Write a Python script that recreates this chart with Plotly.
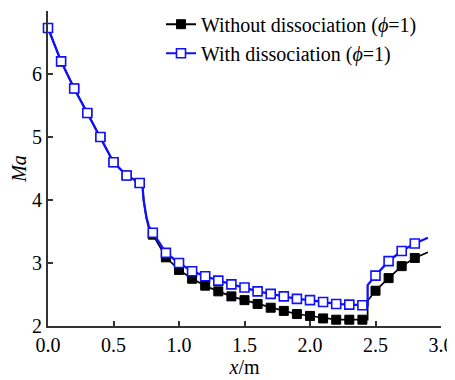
import plotly.graph_objects as go

# ---- data ----
x_marks = [0.0, 0.1, 0.2, 0.3, 0.4, 0.5, 0.6, 0.7, 0.8, 0.9, 1.0, 1.1, 1.2, 1.3, 1.4,
           1.5, 1.6, 1.7, 1.8, 1.9, 2.0, 2.1, 2.2, 2.3, 2.4, 2.5, 2.6, 2.7, 2.8]
ma_without = [6.73, 6.20, 5.77, 5.38, 5.00, 4.60, 4.39, 4.27, 3.45, 3.09, 2.89, 2.75, 2.64, 2.55, 2.47,
              2.41, 2.35, 2.29, 2.24, 2.19, 2.16, 2.12, 2.10, 2.10, 2.10, 2.56, 2.76, 2.95, 3.08]
ma_with = [6.73, 6.20, 5.77, 5.38, 5.00, 4.60, 4.39, 4.27, 3.48, 3.16, 3.00, 2.87, 2.79, 2.72, 2.66,
           2.61, 2.55, 2.51, 2.47, 2.43, 2.41, 2.38, 2.35, 2.34, 2.33, 2.80, 3.03, 3.19, 3.31]

# unmarked points of the continuous curves (shock drop, step rise, end of line)
drop_x = [0.72, 0.73, 0.75, 0.77]
drop_without = [4.25, 4.00, 3.72, 3.55]
drop_with = [4.25, 4.00, 3.74, 3.58]
step_x = [2.44, 2.44]
step_without = [2.10, 2.40]
step_with = [2.33, 2.65]
end_x = [2.9]
end_without = [3.17]
end_with = [3.40]

names = ["Without dissociation (<i>ϕ</i>=1)", "With dissociation (<i>ϕ</i>=1)"]
x_ticks = [0.0, 0.5, 1.0, 1.5, 2.0, 2.5, 3.0]
x_ticklabels = ["0.0", "0.5", "1.0", "1.5", "2.0", "2.5", "3.0"]
y_ticks = [2, 3, 4, 5, 6, 7]


def build_line(marks, drop, step, end):
    xs = x_marks[:8] + drop_x + x_marks[8:25] + step_x + x_marks[25:] + end_x
    ys = marks[:8] + drop + marks[8:25] + step + marks[25:] + end
    return xs, ys


FONT = "Liberation Serif, Times New Roman, serif"
BLUE = "#1010ff"

fig = go.Figure()

series = [
    (ma_without, drop_without, step_without, end_without, "black", 1.7,
     dict(symbol="square", size=9, color="black", line=dict(color="black", width=1))),
    (ma_with, drop_with, step_with, end_with, BLUE, 2.3,
     dict(symbol="square", size=9, color="white", line=dict(color=BLUE, width=1.6))),
]

for (marks, drop, step, end, col, lw, mk), name in zip(series, names):
    lx, ly = build_line(marks, drop, step, end)
    fig.add_trace(go.Scatter(x=lx, y=ly, mode="lines", line=dict(color=col, width=lw),
                             showlegend=False, hoverinfo="skip", cliponaxis=False))
    fig.add_trace(go.Scatter(x=x_marks, y=marks, mode="markers", marker=mk,
                             showlegend=False, cliponaxis=False))
    # legend entry (line + marker)
    fig.add_trace(go.Scatter(x=[None], y=[None], mode="lines+markers", name=name,
                             line=dict(color=col, width=2), marker=mk))

fig.update_layout(
    width=455, height=380,
    margin=dict(l=40, r=22, t=3, b=62, autoexpand=False),
    paper_bgcolor="white", plot_bgcolor="white",
    font=dict(family=FONT, size=20, color="black"),
    legend=dict(x=0.2875, y=1.02, xanchor="left", yanchor="top",
                bgcolor="rgba(0,0,0,0)", font=dict(family=FONT, size=20),
                tracegroupgap=0, itemwidth=30),
    xaxis=dict(range=[0, 3], tickvals=x_ticks, ticktext=x_ticklabels,
               ticks="inside", ticklen=5, tickwidth=1.5, tickcolor="#333",
               showline=True, linecolor="#333", linewidth=1.8, mirror=False,
               showgrid=False, zeroline=False, automargin=False,
               tickfont=dict(family=FONT, size=20),
               title=dict(text="<i>x</i>/m", font=dict(family=FONT, size=20), standoff=4)),
    yaxis=dict(range=[2, 7], tickvals=y_ticks,
               ticks="inside", ticklen=5, tickwidth=1.5, tickcolor="#333",
               showline=True, linecolor="#333", linewidth=1.8, mirror=False,
               showgrid=False, zeroline=False, automargin=False,
               tickfont=dict(family=FONT, size=20),
               title=dict(text="<i>Ma</i>", font=dict(family=FONT, size=20), standoff=8)),
)

fig.write_html("out.html")
